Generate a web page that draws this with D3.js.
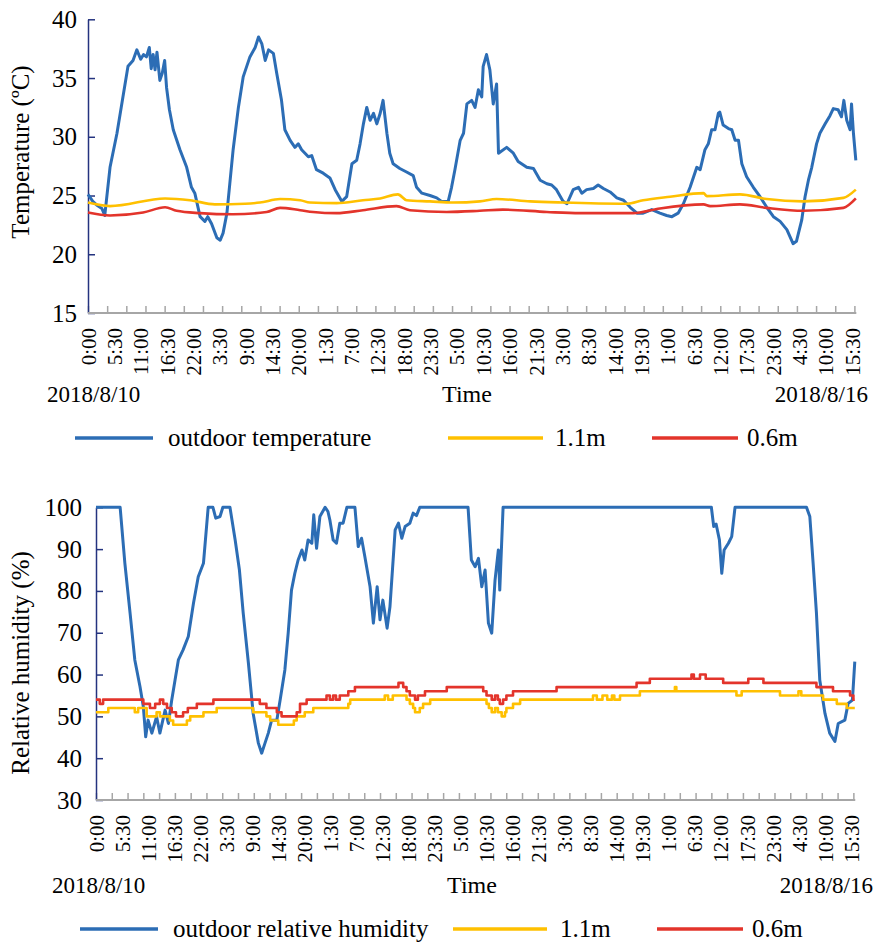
<!DOCTYPE html>
<html>
<head>
<meta charset="utf-8">
<script src="https://cdn.jsdelivr.net/npm/d3@7"></script>
<style>
  body { margin: 0; background: #fff; }
  svg, svg text { font-family: "Liberation Serif", "Times New Roman", serif; }
</style>
</head>
<body>
<div id="chart"></div>
<script>
// Time in hours since 2018/8/10 0:00
var timeLabels = ["0:00", "5:30", "11:00", "16:30", "22:00", "3:30", "9:00", "14:30", "20:00", "1:30",
  "7:00", "12:30", "18:00", "23:30", "5:00", "10:30", "16:00", "21:30", "3:00", "8:30",
  "14:00", "19:30", "1:00", "6:30", "12:00", "17:30", "23:00", "4:30", "10:00", "15:30"];
var labelStep = 5.5; // hours between labels

// [hour, value]
var outdoorTemp = [
  [0, 25.1], [1.0, 24.5], [1.8, 24.2], [2.9, 23.9], [3.5, 23.3], [4.6, 27.4], [6.05, 30.3], [7.3, 33.4],
  [8.35, 36.0], [9.4, 36.5], [10.2, 37.4], [11, 36.6], [11.6, 37.0], [12.2, 36.8], [12.8, 37.6], [13.2, 35.8],
  [13.6, 37.0], [14.0, 35.7], [14.4, 37.2], [15, 34.8], [15.5, 35.4], [16, 36.5], [16.4, 34.2], [17, 32.3],
  [17.8, 30.6], [19.2, 28.9], [20.6, 27.4], [21.6, 25.7], [22.3, 25.2], [23.4, 23.2], [24.4, 22.8], [25, 23.2],
  [25.8, 22.6], [26.9, 21.4], [27.6, 21.2], [28.2, 21.8], [29, 23.5], [29.6, 26.0], [30.3, 28.9], [31.4, 32.5],
  [32.4, 35.1], [33.8, 36.8], [34.9, 37.6], [35.6, 38.5], [36.3, 37.9], [37, 36.5], [37.7, 37.4], [38.7, 37.1],
  [39.4, 35.4], [40.4, 33.1], [41.1, 30.6], [42.2, 29.7], [43.2, 29.1], [43.9, 29.4], [44.6, 28.9], [46, 28.3],
  [46.7, 28.4], [47.7, 27.2], [49.1, 26.9], [50.5, 26.5], [51.6, 25.5], [53, 24.5], [54, 24.9], [55.1, 27.7],
  [56.1, 28.0], [56.8, 29.4], [57.5, 31.1], [58.2, 32.5], [58.9, 31.4], [59.6, 32.0], [60.3, 31.1], [61, 32.0],
  [61.6, 33.1], [62.4, 30.3], [63, 28.6], [63.7, 27.7], [65.1, 27.3], [66.5, 27.0], [67.9, 26.7], [68.6, 25.7],
  [69.7, 25.2], [71.4, 25.0], [72.8, 24.8], [73.8, 24.5], [75.2, 24.5], [75.9, 25.7], [76.6, 27.2], [77.7, 29.7],
  [78.4, 30.3], [79.1, 32.8], [80.1, 33.1], [80.8, 32.5], [81.5, 34.0], [82.2, 33.4], [82.5, 36.0], [83.2, 37.0],
  [83.9, 35.7], [84.6, 32.8], [85.3, 34.5], [85.7, 28.6], [87.4, 29.1], [88.8, 28.6], [89.8, 27.9], [91.6, 27.4],
  [93, 27.3], [94.4, 26.3], [95.8, 26.0], [96.8, 25.9], [97.8, 25.5], [99.2, 24.5], [100, 24.3], [101.3, 25.5],
  [102.4, 25.7], [103.1, 25.2], [104.1, 25.5], [105.5, 25.6], [106.5, 25.9], [107.6, 25.6], [109, 25.3],
  [110.4, 24.8], [111.8, 24.6], [113.2, 24.0], [114.6, 23.5], [115.9, 23.5], [117.7, 23.8], [119.4, 23.5],
  [120.8, 23.3], [121.9, 23.2], [123.2, 23.5], [124.3, 24.3], [125.7, 25.7], [127.1, 27.4], [127.8, 27.2],
  [128.8, 28.9], [129.5, 29.4], [130.2, 30.6], [130.9, 30.6], [131.6, 32.0], [131.9, 32.1], [132.6, 31.0],
  [133.7, 30.7], [134.4, 30.6], [135.1, 29.7], [135.8, 29.7], [136.5, 27.7], [137.5, 26.6], [138.9, 25.7],
  [140.3, 24.9], [141.7, 24.0], [143.1, 23.2], [144.5, 22.8], [145.9, 22.1], [147.2, 20.9], [147.9, 21.1],
  [149, 22.9], [149.7, 24.9], [150.4, 26.3], [151.1, 27.4], [152.1, 29.4], [152.8, 30.3], [153.9, 31.1],
  [154.9, 31.8], [155.6, 32.4], [156.6, 32.3], [157.3, 31.7], [157.8, 33.1], [158.4, 31.4], [159.1, 30.6],
  [159.4, 32.8], [159.8, 30.3], [160.3, 28.0]
];
var temp11 = [
  [0, 24.4], [4.6, 24.1], [16.1, 24.75], [21.3, 24.6], [26.5, 24.25], [32.8, 24.3], [35.9, 24.4], [40.1, 24.7],
  [44.3, 24.6], [46.3, 24.4], [51.9, 24.35], [57.4, 24.6], [61, 24.75], [64.7, 25.1], [66.5, 24.6], [71.4, 24.5],
  [76.2, 24.4], [81.8, 24.5], [85.3, 24.7], [92.3, 24.5], [99.2, 24.4], [112.5, 24.3], [115.9, 24.6],
  [121.5, 24.9], [128.5, 25.2], [129.2, 24.95], [136.1, 25.1], [141.7, 24.7], [149.3, 24.5], [157.7, 24.8],
  [160.3, 25.5]
];
var temp06 = [
  [0, 23.55], [4.6, 23.3], [11.5, 23.55], [16.1, 24.0], [18.5, 23.7], [23.4, 23.5], [30.3, 23.4], [37.3, 23.6],
  [40.1, 23.95], [44.3, 23.75], [47, 23.6], [51.9, 23.5], [57.4, 23.75], [64.4, 24.1], [67.2, 23.75],
  [74.9, 23.6], [81.8, 23.7], [86.6, 23.8], [95.8, 23.6], [102.7, 23.5], [113.8, 23.5], [119.4, 23.9],
  [128.5, 24.25], [129.9, 24.1], [136.1, 24.25], [141.7, 23.95], [149.3, 23.7], [157.7, 23.95], [160.3, 24.75]
];

var outdoorRH = [
  [0, 100], [5.1, 100], [6.1, 86.6], [7.2, 74.7], [8.2, 63.5], [9.3, 57.1], [10, 52.3], [10.5, 45.1], [11, 49.1],
  [11.8, 46], [12.8, 49.9], [13.5, 46], [14.6, 51.5], [15.3, 48.3], [16, 53.9], [16.7, 58.7], [17.4, 63.5],
  [18.4, 65.9], [19.5, 69.1], [20.6, 77.1], [21.6, 83.4], [22.7, 86.6], [23.7, 100], [24.7, 100], [25.3, 97.4],
  [26.2, 97.8], [26.8, 100], [28.3, 100], [29.4, 92.2], [30.3, 85], [31.1, 74.7], [32.2, 62.7], [33.2, 50.7],
  [34.3, 43.6], [35, 41.2], [35.7, 43.6], [36.4, 46], [37.1, 49.1], [38.2, 49.1], [38.9, 53.9], [39.9, 61.1],
  [40.6, 69.9], [41.3, 80.2], [42, 84.2], [42.7, 87.4], [43.5, 89.8], [44.1, 87.4], [44.8, 92.2], [45.6, 91.4],
  [46, 98.2], [46.6, 90.2], [47.3, 97.8], [48.4, 100], [49, 99], [49.4, 97], [50.1, 92.2], [50.8, 91.4],
  [51.5, 96.2], [52.2, 96.2], [53, 100], [54.7, 100], [55.4, 90.6], [56.1, 92.6], [56.8, 88.2], [57.9, 81],
  [58.6, 72.3], [59.4, 81], [60, 73.1], [60.6, 77.8], [61.5, 71.1], [62.1, 76.2], [63.2, 94.6], [63.9, 96.2],
  [64.6, 92.6], [65.3, 95.4], [66.3, 96.2], [67, 98.6], [67.7, 98], [68.4, 100], [78.6, 100], [79.3, 87.4],
  [80.1, 85.8], [80.8, 87.8], [81.5, 81], [82.2, 85], [82.9, 72.3], [83.6, 69.9], [84.3, 82.6], [85, 89.8],
  [85.3, 80.2], [86, 100], [130, 100], [130.5, 95.4], [131, 96], [131.7, 92.2], [132.2, 84.2], [132.7, 89.8],
  [133.6, 91.4], [134.3, 93], [135, 100], [150.1, 100], [150.8, 97.8], [151.5, 86.6], [152.2, 74.7],
  [152.9, 58.7], [154, 50.7], [155, 46], [156.1, 44], [156.8, 48.3], [158.2, 49.1], [158.9, 53.1],
  [159.8, 53.9], [160.3, 63.1]
];
var rh11 = [
  [0, 51], [2.6, 52], [8.2, 51], [8.9, 52], [10.7, 50], [12.8, 51], [13.5, 50], [15.6, 49], [16.3, 48],
  [19.2, 49], [19.9, 50], [22.7, 51], [25.5, 52], [33.2, 51], [36, 50], [36.8, 49], [38.5, 48], [41.8, 49],
  [42.4, 50], [44.1, 51], [45.9, 52], [53.3, 53], [53.7, 54], [61, 55], [61.7, 54], [62.7, 55], [65.6, 54],
  [66.3, 53], [67, 52], [67.4, 51], [68.4, 52], [69.1, 53], [70.6, 54], [82.5, 53], [83, 52], [83.6, 51],
  [84.3, 52], [84.9, 51], [85.7, 50], [86.4, 51], [86.7, 52], [88.1, 53], [89.6, 54], [105, 55], [105.8, 54],
  [107, 55], [108, 54], [109, 55], [109.5, 54], [110.7, 55], [114.9, 56], [122.3, 57], [122.6, 56], [135.3, 55],
  [136.4, 56], [144.5, 55], [148.4, 56], [149, 55], [153.6, 54], [156.5, 53], [158.6, 52], [160.3, 52]
];
var rh06 = [
  [0, 54], [0.8, 53], [1.5, 54], [10, 53], [11.4, 52], [12.5, 53], [13.5, 54], [14.2, 53], [15, 52], [16, 51],
  [16.9, 50], [18.4, 51], [19.4, 52], [21.3, 53], [24.8, 54], [34.6, 53], [36, 52], [38.2, 51], [39.2, 50],
  [42.4, 51], [43.1, 53], [44.5, 54], [48.7, 55], [49.4, 54], [50.1, 55], [50.7, 54], [51.5, 55], [53.3, 56],
  [54.7, 57], [63.9, 58], [64.9, 57], [65.6, 56], [66.3, 55], [67.4, 54], [68, 55], [69.5, 56], [74.1, 57],
  [81.8, 56], [82.5, 55], [83.6, 54], [84.3, 55], [84.9, 54], [85.3, 53], [86, 54], [86.7, 55], [88.1, 56],
  [97.3, 57], [114.2, 58], [117, 59], [125.8, 60], [126.3, 59], [127.6, 60], [128.8, 59], [132.5, 58],
  [137.8, 59], [141, 58], [152.2, 57], [155.7, 56], [159.3, 55], [160, 54], [160.3, 54]
];

var tempTicks = [15, 20, 25, 30, 35, 40];
var rhTicks = [30, 40, 50, 60, 70, 80, 90, 100];

var svgWidth = 878;
var svgHeight = 943;
var serif = "Liberation Serif, Times New Roman, serif";

var colors = { outdoor: "#2C6DB5", h11: "#FFC000", h06: "#E3342B" };

var svg = d3.select("#chart")
  .append("svg")
  .attr("width", svgWidth)
  .attr("height", svgHeight)
  .attr("font-family", serif);

function drawPanel(cfg) {
  var g = svg.append("g").attr("font-family", serif);

  var x = d3.scaleLinear()
    .domain([0, labelStep * (timeLabels.length - 1)])
    .range([cfg.left, cfg.lastLabelX]);
  var y = d3.scaleLinear()
    .domain(cfg.yDomain)
    .range([cfg.bottom, cfg.top]);

  var endHour = 160.4;

  // tick marks (inside, pointing up)
  var tickMarks = d3.range(0, endHour, cfg.tickEvery);
  var xTicks = g.append("g")
    .attr("transform", `translate(0, ${cfg.bottom})`)
    .call(d3.axisBottom(x).tickValues(tickMarks).tickSize(-7).tickFormat(""));
  xTicks.select(".domain").remove();
  xTicks.selectAll("line").attr("stroke", "#A6A6A6").attr("stroke-width", 1.5);

  // rotated time labels
  var xLab = g.append("g")
    .attr("transform", `translate(0, ${cfg.bottom})`)
    .call(d3.axisBottom(x)
      .tickValues(timeLabels.map((d, i) => i * labelStep))
      .tickSize(0)
      .tickFormat((d, i) => timeLabels[i]));
  xLab.attr("font-family", serif);
  xLab.select(".domain").remove();
  xLab.selectAll("text")
    .attr("font-family", serif)
    .attr("font-size", 21)
    .attr("fill", "#000")
    .attr("text-anchor", "end")
    .attr("transform", "rotate(-90)")
    .attr("x", -15)
    .attr("y", 0)
    .attr("dy", "0.34em");

  // y axis
  var yAxis = g.append("g")
    .attr("transform", `translate(${cfg.left}, 0)`)
    .call(d3.axisLeft(y).tickValues(cfg.yTicks).tickSize(-7).tickPadding(cfg.yPad).tickSizeOuter(0));
  yAxis.attr("font-family", serif);
  yAxis.select(".domain").attr("stroke", "#24337F").attr("stroke-width", 1.5);
  yAxis.selectAll("line").attr("stroke", "#24337F").attr("stroke-width", 1.5);
  yAxis.selectAll("text")
    .attr("font-family", serif)
    .attr("font-size", 25)
    .attr("fill", "#000");

  // x axis line
  g.append("line")
    .attr("x1", cfg.left).attr("x2", x(endHour))
    .attr("y1", cfg.bottom).attr("y2", cfg.bottom)
    .attr("stroke", "#A6A6A6").attr("stroke-width", 2.2);

  // series
  cfg.series.forEach(function(s) {
    var line = d3.line()
      .x(d => x(d[0]))
      .y(d => y(d[1]))
      .curve(s.curve);
    g.append("path")
      .datum(s.data)
      .attr("fill", "none")
      .attr("stroke", s.color)
      .attr("stroke-width", s.width)
      .attr("stroke-linejoin", "round")
      .attr("d", line);
  });

  // y title
  g.append("text")
    .attr("transform", `translate(20, ${cfg.yTitleY}) rotate(-90)`)
    .attr("text-anchor", "middle")
    .attr("dy", "0.35em")
    .attr("font-size", 25)
    .text(cfg.yTitle);

  // date labels and Time
  g.append("text")
    .attr("x", cfg.dateLeftX).attr("y", cfg.dateY)
    .attr("font-size", 23)
    .text("2018/8/10");
  g.append("text")
    .attr("x", cfg.dateRightX).attr("y", cfg.dateY)
    .attr("text-anchor", "end")
    .attr("font-size", 23)
    .text("2018/8/16");
  g.append("text")
    .attr("x", cfg.timeX).attr("y", cfg.dateY)
    .attr("text-anchor", "middle")
    .attr("font-size", 24)
    .text("Time");

  // legend
  var legend = g.append("g");
  cfg.legend.forEach(function(l) {
    legend.append("line")
      .attr("x1", l.x1).attr("x2", l.x2)
      .attr("y1", cfg.legendY).attr("y2", cfg.legendY)
      .attr("stroke", l.color).attr("stroke-width", 3.5);
    legend.append("text")
      .attr("x", l.tx).attr("y", cfg.legendY)
      .attr("dy", "0.32em")
      .attr("font-size", 25)
      .text(l.label);
  });
}

drawPanel({
  left: 88, lastLabelX: 852, top: 19.3, bottom: 313,
  yDomain: [15, 40], yTicks: tempTicks, yPad: 11, tickEvery: 4,
  yTitle: "Temperature (ºC)", yTitleY: 152,
  dateY: 402, dateLeftX: 47, dateRightX: 868, timeX: 467,
  legendY: 438,
  legend: [
    { x1: 75, x2: 153, tx: 168, color: colors.outdoor, label: "outdoor temperature" },
    { x1: 448, x2: 543, tx: 555, color: colors.h11, label: "1.1m" },
    { x1: 652, x2: 738, tx: 747, color: colors.h06, label: "0.6m" }
  ],
  series: [
    { data: outdoorTemp, color: colors.outdoor, width: 3, curve: d3.curveLinear },
    { data: temp11, color: colors.h11, width: 2.6, curve: d3.curveMonotoneX },
    { data: temp06, color: colors.h06, width: 2.6, curve: d3.curveMonotoneX }
  ]
});

drawPanel({
  left: 96, lastLabelX: 851, top: 507.3, bottom: 800,
  yDomain: [30, 100], yTicks: rhTicks, yPad: 14, tickEvery: 10 / 3,
  yTitle: "Relative humidity (%)", yTitleY: 663,
  dateY: 893, dateLeftX: 52, dateRightX: 873, timeX: 472,
  legendY: 929,
  legend: [
    { x1: 80, x2: 158, tx: 173, color: colors.outdoor, label: "outdoor relative humidity" },
    { x1: 453, x2: 547, tx: 560, color: colors.h11, label: "1.1m" },
    { x1: 657, x2: 743, tx: 752, color: colors.h06, label: "0.6m" }
  ],
  series: [
    { data: outdoorRH, color: colors.outdoor, width: 3, curve: d3.curveLinear },
    { data: rh11, color: colors.h11, width: 2.6, curve: d3.curveStepAfter },
    { data: rh06, color: colors.h06, width: 2.6, curve: d3.curveStepAfter }
  ]
});
</script>
</body>
</html>
